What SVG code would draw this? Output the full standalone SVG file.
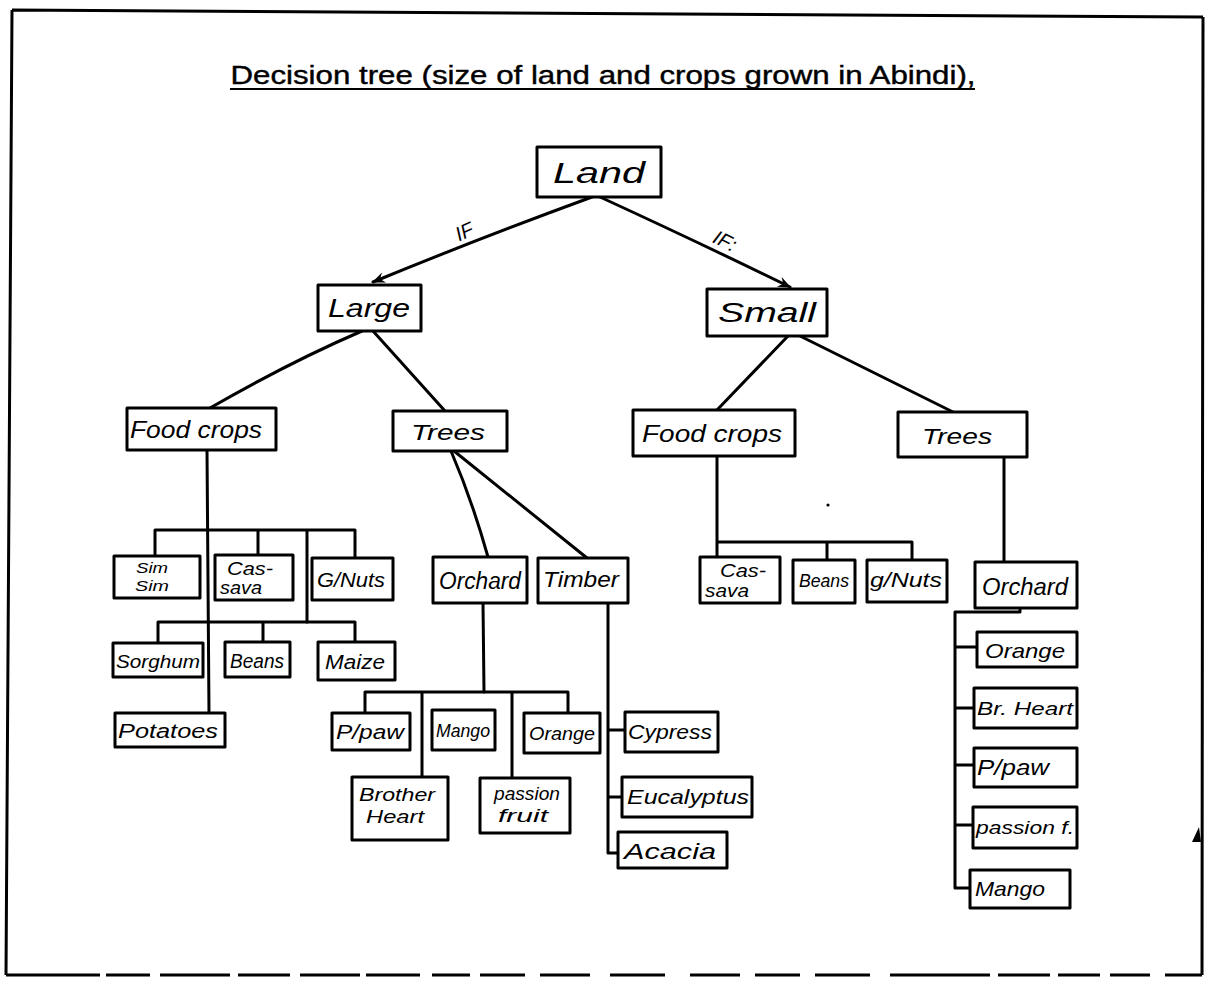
<svg xmlns="http://www.w3.org/2000/svg" width="1208" height="988" viewBox="0 0 1208 988">
  <style>
    .box { fill: #fff; stroke: #000; stroke-width: 3; stroke-linejoin: round; }
    .ln { fill: none; stroke: #000; stroke-width: 3; stroke-linecap: round; stroke-linejoin: round; }
    .frame { fill: none; stroke: #000; stroke-width: 3; }
    .hand { font-family: "Liberation Sans", "DejaVu Sans", sans-serif; font-style: italic; fill: #000; text-anchor: middle; }
    .title { font-family: "Liberation Sans", Arial, sans-serif; font-size: 25px; fill: #000; stroke: #000; stroke-width: 0.4; text-anchor: middle; }
    .lbl { font-family: "Liberation Sans", "DejaVu Sans", sans-serif; font-style: italic; font-size: 20px; fill: #000; text-anchor: middle; }
  </style>
  <defs>
    <marker id="arrow" viewBox="0 0 12 12" refX="11" refY="6" markerWidth="13" markerHeight="13" markerUnits="userSpaceOnUse" orient="auto">
      <path d="M0,1 L12,6 L0,11 L4,6 Z" fill="#000"/>
    </marker>
  </defs>

  <rect width="1208" height="988" fill="#fff"/>

  <!-- page frame -->
  <g id="frame">
    <path class="frame" d="M12,10 L1203,17 M12,10 L6,975 M1203,17 L1202,975"/>
    <path class="frame" d="M6,975 H100 M106,975 H150 M160,975 H230 M238,975 H290 M300,975 H360 M366,975 H420 M432,975 H470 M480,975 H525 M540,975 H590 M610,975 H665 M690,975 H740 M755,975 H800 M815,975 H870 M890,975 H990 M998,975 H1050 M1058,975 H1100 M1110,975 H1150 M1165,975 H1202"/>
    <path d="M1192,842 L1199,827 L1201,842 Z" fill="#000"/>
  </g>

  <!-- heading -->
  <g id="heading">
    <text class="title" x="603" y="84" textLength="745" lengthAdjust="spacingAndGlyphs">Decision tree (size of land and crops grown in Abindi),</text>
    <line x1="230" y1="89" x2="975" y2="89" stroke="#000" stroke-width="2"/>
  </g>

  <!-- connectors -->
  <g id="connectors">
    <path class="ln" d="M592,197 Q480,238 373,282" marker-end="url(#arrow)"/>
    <path class="ln" d="M600,197 Q700,243 790,287" marker-end="url(#arrow)"/>
    <text class="lbl" x="467" y="238" transform="rotate(-24 467 238)">IF</text>
    <text class="lbl" x="722" y="247" transform="rotate(26 722 247)">IF:</text>

    <path class="ln" d="M362,331 Q290,362 210,408"/>
    <path class="ln" d="M373,331 L445,411"/>
    <path class="ln" d="M788,336 L717,410"/>
    <path class="ln" d="M800,336 L953,412"/>

    <!-- large / food crops -->
    <path class="ln" d="M207,450 L209,713"/>
    <path class="ln" d="M155,556 V530 H355 V558 M258,530 V555 M307,530 V622"/>
    <path class="ln" d="M158,643 V622 H355 V642 M263,622 V642"/>

    <!-- large / trees -->
    <path class="ln" d="M451,451 Q472,500 488,557"/>
    <path class="ln" d="M454,451 L587,558"/>
    <path class="ln" d="M483,603 L484,692"/>
    <path class="ln" d="M365,713 V692 H568 V713 M422,692 V777 M512,692 V778"/>
    <path class="ln" d="M608,603 V853 H620 M608,730 H625 M608,797 H622"/>

    <!-- small / food crops -->
    <path class="ln" d="M717,456 V557 M717,542 H912 V560 M827,542 V560"/>

    <!-- small / trees -->
    <path class="ln" d="M1004,457 V562"/>
    <path class="ln" d="M1020,608 V612 H955 V888 H970 M955,647 H977 M955,708 H974 M955,765 H974 M955,825 H973"/>
    <circle cx="828" cy="505" r="1.6" fill="#000"/>
  </g>

  <!-- nodes -->
  <g id="n-land"><rect class="box" x="537" y="147" width="124" height="50"/><text class="hand" x="599" y="183" font-size="30" textLength="92" lengthAdjust="spacingAndGlyphs">Land</text></g>
  <g id="n-large"><rect class="box" x="318" y="285" width="103" height="46"/><text class="hand" x="369" y="317" font-size="26" textLength="82" lengthAdjust="spacingAndGlyphs">Large</text></g>
  <g id="n-small"><rect class="box" x="707" y="289" width="120" height="47"/><text class="hand" x="767" y="322" font-size="27" textLength="98" lengthAdjust="spacingAndGlyphs">Small</text></g>

  <g id="n-food-l"><rect class="box" x="127" y="408" width="149" height="42"/><text class="hand" x="196" y="438" font-size="23" textLength="132" lengthAdjust="spacingAndGlyphs">Food crops</text></g>
  <g id="n-trees-l"><rect class="box" x="393" y="411" width="114" height="40"/><text class="hand" x="448" y="440" font-size="22" textLength="74" lengthAdjust="spacingAndGlyphs">Trees</text></g>
  <g id="n-food-r"><rect class="box" x="633" y="410" width="162" height="46"/><text class="hand" x="712" y="442" font-size="23" textLength="140" lengthAdjust="spacingAndGlyphs">Food crops</text></g>
  <g id="n-trees-r"><rect class="box" x="898" y="412" width="129" height="45"/><text class="hand" x="957" y="444" font-size="22" textLength="70" lengthAdjust="spacingAndGlyphs">Trees</text></g>

  <g id="n-simsim"><rect class="box" x="114" y="556" width="86" height="42"/><text class="hand" x="152" y="573" font-size="15" textLength="32" lengthAdjust="spacingAndGlyphs">Sim</text><text class="hand" x="152" y="591" font-size="15" textLength="34" lengthAdjust="spacingAndGlyphs">Sim</text></g>
  <g id="n-cassava-l"><rect class="box" x="215" y="555" width="78" height="45"/><text class="hand" x="250" y="575" font-size="19" textLength="46" lengthAdjust="spacingAndGlyphs">Cas-</text><text class="hand" x="241" y="594" font-size="19" textLength="42" lengthAdjust="spacingAndGlyphs">sava</text></g>
  <g id="n-gnuts-l"><rect class="box" x="312" y="558" width="81" height="42"/><text class="hand" x="351" y="587" font-size="20" textLength="68" lengthAdjust="spacingAndGlyphs">G/Nuts</text></g>
  <g id="n-sorghum"><rect class="box" x="113" y="643" width="90" height="34"/><text class="hand" x="158" y="668" font-size="19" textLength="84" lengthAdjust="spacingAndGlyphs">Sorghum</text></g>
  <g id="n-beans-l"><rect class="box" x="225" y="642" width="65" height="35"/><text class="hand" x="257" y="668" font-size="20" textLength="54" lengthAdjust="spacingAndGlyphs">Beans</text></g>
  <g id="n-maize"><rect class="box" x="318" y="642" width="77" height="38"/><text class="hand" x="355" y="669" font-size="20" textLength="60" lengthAdjust="spacingAndGlyphs">Maize</text></g>
  <g id="n-potatoes"><rect class="box" x="115" y="713" width="110" height="34"/><text class="hand" x="168" y="738" font-size="20" textLength="100" lengthAdjust="spacingAndGlyphs">Potatoes</text></g>

  <g id="n-orchard-l"><rect class="box" x="433" y="557" width="94" height="46"/><text class="hand" x="480" y="589" font-size="23" textLength="82" lengthAdjust="spacingAndGlyphs">Orchard</text></g>
  <g id="n-timber"><rect class="box" x="538" y="558" width="90" height="45"/><text class="hand" x="581" y="587" font-size="22" textLength="76" lengthAdjust="spacingAndGlyphs">Timber</text></g>
  <g id="n-ppaw-l"><rect class="box" x="332" y="713" width="78" height="37"/><text class="hand" x="370" y="739" font-size="20" textLength="68" lengthAdjust="spacingAndGlyphs">P/paw</text></g>
  <g id="n-mango-l"><rect class="box" x="432" y="710" width="63" height="40"/><text class="hand" x="463" y="737" font-size="19" textLength="54" lengthAdjust="spacingAndGlyphs">Mango</text></g>
  <g id="n-orange-l"><rect class="box" x="524" y="713" width="76" height="40"/><text class="hand" x="562" y="740" font-size="19" textLength="66" lengthAdjust="spacingAndGlyphs">Orange</text></g>
  <g id="n-brother"><rect class="box" x="352" y="777" width="96" height="63"/><text class="hand" x="397" y="801" font-size="19" textLength="76" lengthAdjust="spacingAndGlyphs">Brother</text><text class="hand" x="395" y="823" font-size="19" textLength="58" lengthAdjust="spacingAndGlyphs">Heart</text></g>
  <g id="n-passion-l"><rect class="box" x="480" y="778" width="90" height="55"/><text class="hand" x="527" y="800" font-size="19" textLength="66" lengthAdjust="spacingAndGlyphs">passion</text><text class="hand" x="523" y="822" font-size="19" textLength="50" lengthAdjust="spacingAndGlyphs">fruit</text></g>
  <g id="n-cypress"><rect class="box" x="625" y="712" width="93" height="40"/><text class="hand" x="670" y="739" font-size="21" textLength="84" lengthAdjust="spacingAndGlyphs">Cypress</text></g>
  <g id="n-eucalyptus"><rect class="box" x="622" y="777" width="130" height="40"/><text class="hand" x="688" y="804" font-size="21" textLength="122" lengthAdjust="spacingAndGlyphs">Eucalyptus</text></g>
  <g id="n-acacia"><rect class="box" x="618" y="832" width="109" height="36"/><text class="hand" x="670" y="859" font-size="22" textLength="92" lengthAdjust="spacingAndGlyphs">Acacia</text></g>

  <g id="n-cassava-r"><rect class="box" x="700" y="557" width="80" height="46"/><text class="hand" x="743" y="577" font-size="19" textLength="46" lengthAdjust="spacingAndGlyphs">Cas-</text><text class="hand" x="727" y="597" font-size="19" textLength="44" lengthAdjust="spacingAndGlyphs">sava</text></g>
  <g id="n-beans-r"><rect class="box" x="793" y="560" width="62" height="43"/><text class="hand" x="824" y="587" font-size="18" textLength="50" lengthAdjust="spacingAndGlyphs">Beans</text></g>
  <g id="n-gnuts-r"><rect class="box" x="867" y="560" width="80" height="42"/><text class="hand" x="906" y="587" font-size="21" textLength="72" lengthAdjust="spacingAndGlyphs">g/Nuts</text></g>
  <g id="n-orchard-r"><rect class="box" x="975" y="562" width="102" height="46"/><text class="hand" x="1025" y="595" font-size="24" textLength="86" lengthAdjust="spacingAndGlyphs">Orchard</text></g>
  <g id="n-orange-r"><rect class="box" x="977" y="632" width="100" height="35"/><text class="hand" x="1025" y="658" font-size="21" textLength="80" lengthAdjust="spacingAndGlyphs">Orange</text></g>
  <g id="n-brheart"><rect class="box" x="974" y="688" width="103" height="40"/><text class="hand" x="1025" y="715" font-size="19" textLength="96" lengthAdjust="spacingAndGlyphs">Br. Heart</text></g>
  <g id="n-ppaw-r"><rect class="box" x="974" y="748" width="103" height="39"/><text class="hand" x="1013" y="775" font-size="22" textLength="72" lengthAdjust="spacingAndGlyphs">P/paw</text></g>
  <g id="n-passion-r"><rect class="box" x="973" y="807" width="104" height="41"/><text class="hand" x="1025" y="834" font-size="19" textLength="98" lengthAdjust="spacingAndGlyphs">passion f.</text></g>
  <g id="n-mango-r"><rect class="box" x="970" y="870" width="100" height="38"/><text class="hand" x="1010" y="896" font-size="21" textLength="70" lengthAdjust="spacingAndGlyphs">Mango</text></g>
</svg>
